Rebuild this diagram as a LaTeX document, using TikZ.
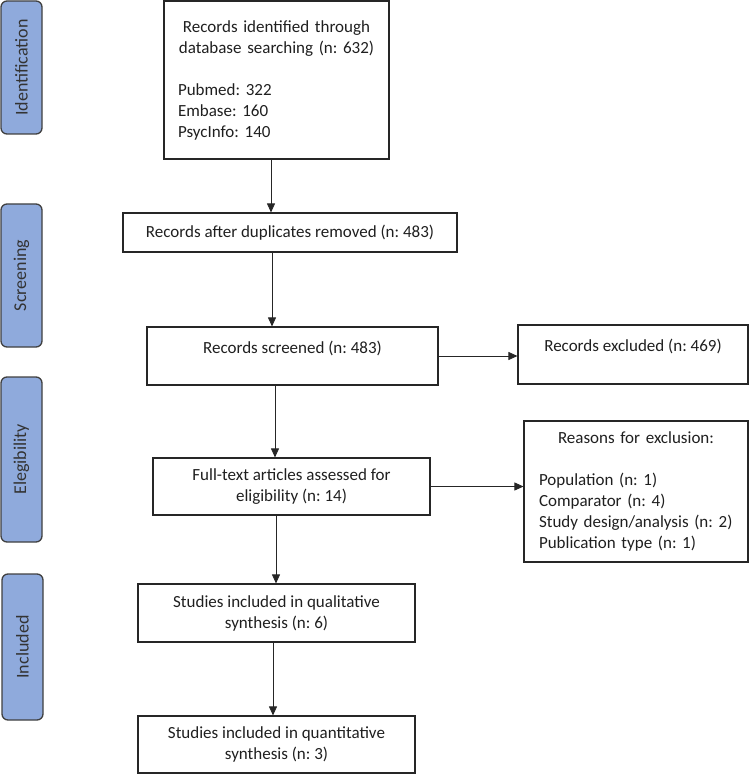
\documentclass[tikz,border=0pt]{standalone}
\usepackage{fontspec}
\setmainfont{Carlito}
\usetikzlibrary{arrows.meta}
\definecolor{phaseblue}{RGB}{143,170,220}
\frenchspacing

\begin{document}
\begin{tikzpicture}
  [x=1pt, y=-1pt,
   every node/.style={font=\fontsize{17}{21}\selectfont, text=black!88},
   phase/.style={draw=black!75, line width=1.3pt, fill=phaseblue,
     rounded corners=6pt, rotate=90, minimum height=41pt, inner sep=0pt,
     font=\fontsize{18}{21}\selectfont, text=black!80},
   box/.style={draw=black!85, line width=1.1pt, align=center, inner sep=0pt},
   arr/.style={-{Triangle[length=9pt, width=8pt]}, line width=0.8pt, black!85},
   upper/.style={text depth=17.6pt}]
  \useasboundingbox (0,0) rectangle (749,775);

  % phases on the left
  \node[phase, minimum width=133] (pident) at (21.5,67.5) {Identification};
  \node[phase, minimum width=143] (pscreen) at (21.5,275.5) {Screening};
  \node[phase, minimum width=165] (pelig) at (21.5,459.5) {Elegibility};
  \node[phase, minimum width=146] (pincl) at (22.5,647) {Included};

  % flow boxes
  \node[box, minimum width=225, minimum height=158, text width=197pt, align=left]
    (ident) at (276.5,80)
    {{\centering Records identified through\\database searching (n: 632)\par}
     \vspace{21pt}
     Pubmed: 322\\Embase: 160\\PsycInfo: 140};
  \node[box, minimum width=334, minimum height=39] (dup) at (290,232.5)
    {Records after duplicates removed (n: 483)};
  \node[box, upper, minimum width=291, minimum height=58] (screen) at (292.5,356)
    {Records screened (n: 483)};
  \node[box, upper, minimum width=230, minimum height=59] (excl) at (633,354.5)
    {Records excluded (n: 469)};
  \node[box, minimum width=277, minimum height=57] (elig) at (291.5,486.5)
    {Full-text articles assessed for\\eligibility (n: 14)};
  \node[box, minimum width=224, minimum height=141, text width=194pt, align=left]
    (reasons) at (636,491.5)
    {{\centering Reasons for exclusion:\par}
     \vspace{21pt}
     Population (n: 1)\\Comparator (n: 4)\\Study design/analysis (n: 2)\\Publication type (n: 1)};
  \node[box, minimum width=277, minimum height=58] (qual) at (276.5,613)
    {Studies included in qualitative\\synthesis (n: 6)};
  \node[box, minimum width=277, minimum height=57] (quant) at (276.5,744.5)
    {Studies included in quantitative\\synthesis (n: 3)};

  % connectors
  \draw[arr] (271,0 |- ident.south) -- (271,0 |- dup.north);
  \draw[arr] (272,0 |- dup.south) -- (272,0 |- screen.north);
  \draw[arr] (275,0 |- screen.south) -- (275,0 |- elig.north);
  \draw[arr] (276,0 |- elig.south) -- (276,0 |- qual.north);
  \draw[arr] (273,0 |- qual.south) -- (273,0 |- quant.north);
  \draw[arr] (screen.east) -- (screen.east -| excl.west);
  \draw[arr] (elig.east) -- (elig.east -| reasons.west);
\end{tikzpicture}
\end{document}
